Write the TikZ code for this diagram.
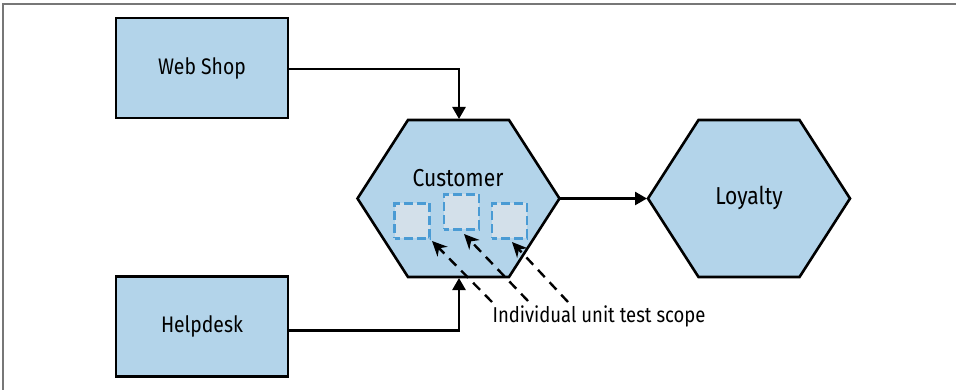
\documentclass[tikz,border=0pt]{standalone}
\usepackage{fontspec}
\setmainfont{Fira Sans}[FakeStretch=0.86]
\usetikzlibrary{arrows.meta}
\definecolor{boxblue}{HTML}{B3D4EA}
\definecolor{scopefill}{HTML}{D3E0EA}
\definecolor{scopeline}{HTML}{4A9BD4}
\definecolor{framegray}{HTML}{777777}
\tikzset{
  lbl/.style={font=\fontsize{22.5}{26}\selectfont, inner sep=0pt},
  biglbl/.style={font=\fontsize{24.5}{28}\selectfont, inner sep=0pt},
  svcbox/.style={draw, line width=2.6pt, fill=boxblue, minimum width=172pt, minimum height=100pt, lbl},
  hexshape/.style={draw, line width=2.6pt, fill=boxblue, line join=miter},
  scopebox/.style={draw=scopeline, dash pattern=on 9pt off 4pt, dash phase=4pt, line width=2.4pt, fill=scopefill, minimum size=35pt, inner sep=0pt},
  conn/.style={line width=2.5pt, -{Triangle[length=12pt,width=13pt]}},
  dasharrow/.style={line width=2.4pt, dash pattern=on 10pt off 7pt, -{Stealth[length=15pt,width=14pt]}},
}
\begin{document}
\begin{tikzpicture}[x=1pt,y=-1pt]
\useasboundingbox (0,0) rectangle (956,390);
\draw[framegray, line width=1.8pt] (3,390) -- (3,4) -- (956,4);

\node[svcbox] (ws) at (202,68) {\raisebox{-2.5pt}{Web Shop}};
\node[svcbox] (hd) at (202,326.5) {\raisebox{-3pt}{Helpdesk}};

\coordinate (cust) at (458.5,198.5);
\coordinate (loy) at (749,198.5);
\foreach \c in {cust,loy}{
  \draw[hexshape] ([shift={(-101,0)}]\c) -- ([shift={(-50.5,-78.5)}]\c) -- ([shift={(50.5,-78.5)}]\c)
    -- ([shift={(101,0)}]\c) -- ([shift={(50.5,78.5)}]\c) -- ([shift={(-50.5,78.5)}]\c) -- cycle;
}
\coordinate (custT) at ([shift={(0.5,-79.5)}]cust);
\coordinate (custB) at ([shift={(0.5,79.5)}]cust);
\coordinate (custR) at ([shift={(101,0)}]cust);
\coordinate (loyL) at ([shift={(-102,0)}]loy);

\node[biglbl] (custlabel) at (458,178) {Customer};
\node[biglbl] (loylabel) at (749,198) {Loyalty};

\node[scopebox] (sq1) at (412,221) {};
\node[scopebox] (sq2) at (461.5,212) {};
\node[scopebox] (sq3) at (509.5,221) {};

\draw[conn] ([yshift=-1pt]ws.east) -| (custT);
\draw[conn] ([yshift=-4pt]hd.east) -| (custB);
\draw[conn] (custR) -- (loyL);

\coordinate (a1) at (432,241);
\coordinate (a2) at (464,234);
\coordinate (a3) at (512,242);
\coordinate (t1) at (492,302);
\coordinate (t2) at (528,301);
\coordinate (t3) at (568,302);
\draw[dasharrow] (t1) -- (a1);
\draw[dasharrow] (t2) -- (a2);
\draw[dasharrow] (t3) -- (a3);

\node[font=\fontsize{21.5}{26}\selectfont, inner sep=0pt] (scopelabel) at (599,316) {Individual unit test scope};
\end{tikzpicture}
\end{document}
